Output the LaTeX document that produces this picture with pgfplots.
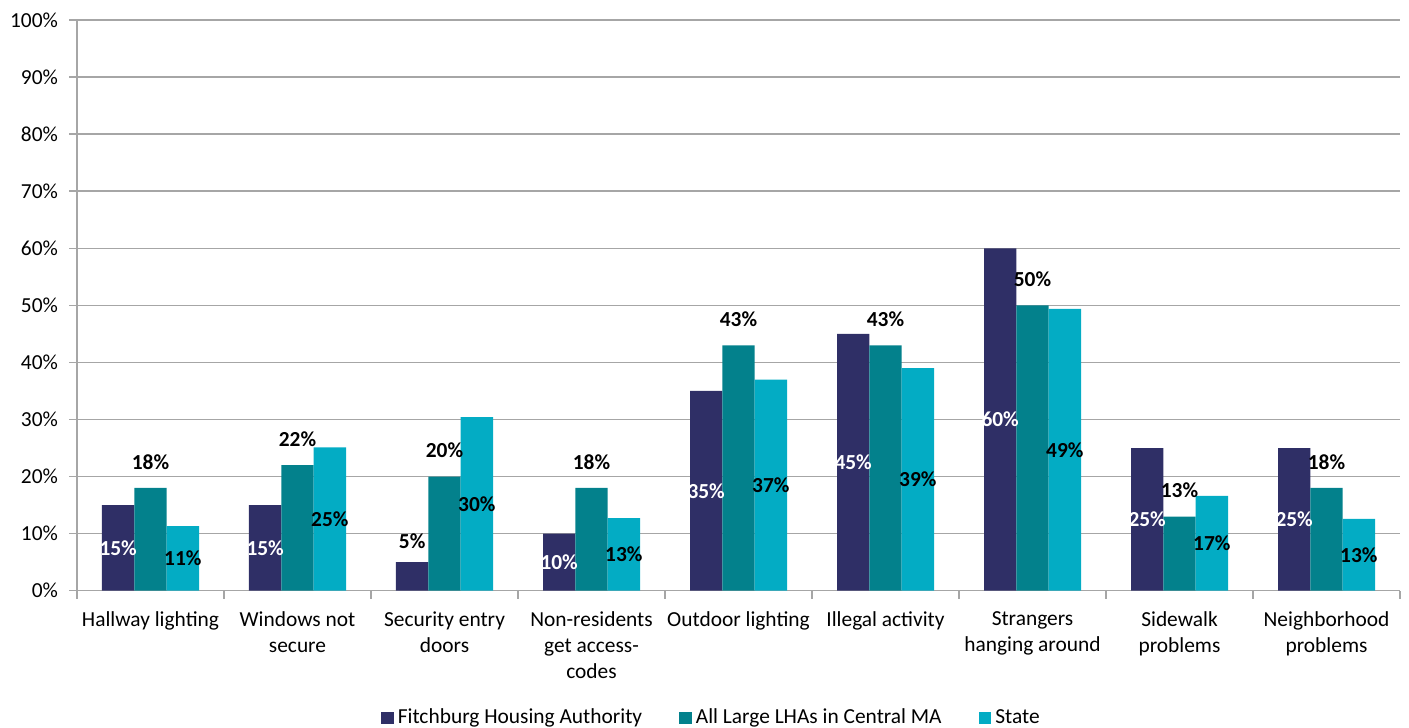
\documentclass[border=0pt]{standalone}
\usepackage{pgfplots}
\usepackage{pgfplotstable}
\pgfplotsset{compat=1.18}
\usepackage{fontspec}
\setmainfont{Carlito}

\definecolor{fha}{HTML}{2F2F66}
\definecolor{lha}{HTML}{03818C}
\definecolor{state}{HTML}{03ACC4}
\definecolor{gridgray}{HTML}{A6A6A6}

\newcommand\labelfont{\fontsize{10.7}{13}\selectfont}
\newcommand\valfont{\fontsize{10.7}{13}\selectfont\bfseries}

% share of respondents reporting each problem (%)
\pgfplotstableread{
x  fha  lha  state
0  15   18   11.3
1  15   22   25.1
2  5    20   30.4
3  10   18   12.7
4  35   43   37.0
5  45   43   39.0
6  60   50   49.4
7  25   13   16.6
8  25   18   12.6
}\data

\pgfplotsset{
  pct label/.style={
    nodes near coords={\pgfmathprintnumber[fixed,precision=0,assume math mode=true]{\pgfplotspointmeta}\%},
    every node near coord/.append style={font=\valfont, inner sep=0pt},
  },
  mid label/.style={
    pct label,
    visualization depends on={rawy \as \rawy},
    every node near coord/.append style={anchor=center, text=#1,
      shift={(axis direction cs:0,-0.5*\rawy)}},
  },
  top label/.style={
    pct label,
    every node near coord/.append style={anchor=center, text=black, yshift=#1},
  },
  label only/.style={draw=none, fill=none, forget plot},
}

\begin{document}
\begin{tikzpicture}
\begin{axis}[
  name=ax,
  scale only axis,
  width=661.5pt, height=285.35pt,
  ybar, bar width=0.22,
  xmin=-0.5, xmax=8.5, ymin=0, ymax=100,
  axis lines*=left,
  axis line style={draw=gridgray, line width=0.75pt},
  ymajorgrids,
  grid style={draw=gridgray, line width=0.75pt},
  tick align=outside,
  major tick length=4pt, minor tick length=4pt,
  ytick={0,10,...,100},
  ytick style={draw=gridgray, line width=0.75pt},
  yticklabel={\pgfmathprintnumber[assume math mode=true]{\tick}\%},
  yticklabel style={font=\labelfont, xshift=-2pt},
  xtick={0,...,8},
  minor xtick={-0.5,0.5,...,8.5},
  major x tick style={draw=none},
  minor x tick style={draw=gridgray, line width=0.75pt},
  xticklabels={Hallway lighting, Windows not\\secure, Security entry\\doors,
    Non-residents\\get access-\\codes, Outdoor lighting, Illegal activity,
    Strangers\\hanging around, Sidewalk\\problems, Neighborhood\\problems},
  xticklabel style={align=center, font=\labelfont, anchor=north, yshift=-3pt},
  legend columns=3,
  legend style={draw=none, fill=none, font=\labelfont,
    at={(0.4803,-0.2231)}, anchor=center,
    /tikz/every even column/.append style={column sep=16.5pt}},
  legend image code/.code={\draw[#1, draw=none] (0pt,-3.2pt) rectangle (6.35pt,3.2pt);},
]
% bars
\addplot[fill=fha, draw=none, bar shift=-0.22] table[x=x, y=fha] {\data};
\addlegendentry{Fitchburg Housing Authority}
\addplot[fill=lha, draw=none, bar shift=0] table[x=x, y=lha] {\data};
\addlegendentry{All Large LHAs in Central MA}
\addplot[fill=state, draw=none, bar shift=0.22] table[x=x, y=state] {\data};
\addlegendentry{State}

% value labels, drawn over all bars
\addplot[label only, bar shift=-0.22, mid label=white,
  x filter/.expression={x==2 ? nan : x}] table[x=x, y=fha] {\data};
\addplot[label only, bar shift=-0.22, top label=10.5pt,
  x filter/.expression={x==2 ? x : nan}] table[x=x, y=fha] {\data};
\addplot[label only, bar shift=0, top label=13pt] table[x=x, y=lha] {\data};
\addplot[label only, bar shift=0.22, mid label=black] table[x=x, y=state] {\data};
\end{axis}
\pgfresetboundingbox
\path[use as bounding box] ([xshift=-38.5pt,yshift=-68.15pt]ax.south west)
  rectangle ([xshift=4.5pt,yshift=10pt]ax.north east);
\end{tikzpicture}
\end{document}
